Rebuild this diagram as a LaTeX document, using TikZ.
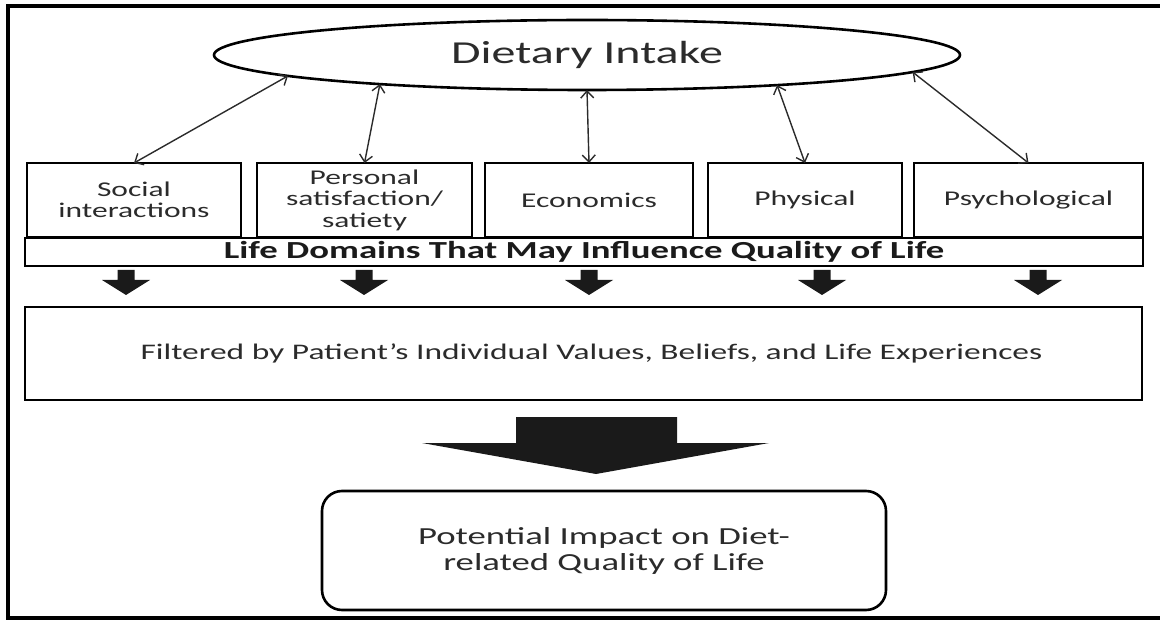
\documentclass[tikz,border=0pt]{standalone}
\usepackage{fontspec}
\setmainfont{Carlito}[FakeStretch=1.5]
\usetikzlibrary{arrows.meta,shapes.geometric}

\definecolor{inkgrey}{HTML}{2B2B2B}
\definecolor{fatgrey}{HTML}{1A1A1A}

\tikzset{
  domainbox/.style={draw, line width=2.6pt, minimum height=74pt, inner sep=0pt, outer sep=0pt,
    align=center, text=inkgrey, font=\fontsize{21}{21.5}\selectfont},
  twoway/.style={{Straight Barb[length=7pt,width=13pt]}-{Straight Barb[length=7pt,width=13pt]},
    line width=1.4pt, draw=inkgrey},
}

\begin{document}
\begin{tikzpicture}[x=1pt, y=-1pt]
       \useasboundingbox (0,0) rectangle (1160,620);
       \draw[line width=4pt] (8,6) rectangle (1170,618);
       % top
       \node[draw, ellipse, line width=2.6pt, inner sep=0pt, outer sep=0pt, minimum width=746pt, minimum height=70pt,
         text=inkgrey, font=\fontsize{32}{34}\selectfont] (diet) at (587,55) {Dietary Intake};
       % domains
       \node[domainbox, minimum width=214pt] (soc)  at (134,200)    {Social\\interactions};
       \node[domainbox, minimum width=215pt] (pers) at (364.5,200)  {Personal\\satisfaction/\\satiety};
       \node[domainbox, minimum width=208pt] (eco)  at (589,200)    {Economics};
       \node[domainbox, minimum width=194pt] (phys) at (805,200)    {Physical};
       \node[domainbox, minimum width=229pt] (psy)  at (1028.5,200) {Psychological};
       \node[draw, line width=2.6pt, inner sep=0pt, outer sep=0pt, minimum width=1118pt, minimum height=28pt,
         text=fatgrey, font=\fontsize{24.5}{25}\selectfont\bfseries] (band) at (584,252)
         {Life Domains That May Influence Quality of Life};
       \draw[twoway] (diet.184.2) -- (soc.north);
       \draw[twoway] (diet.188.6) -- (pers.north);
       \draw[twoway] (diet.south) -- (eco.north);
       \draw[twoway] (diet.351.5) -- (phys.north);
       \draw[twoway] (diet.357.1) -- (psy.north);
       % small arrows
       \foreach \x in {126,364,589,822,1038}
         \fill[fatgrey] (\x-8.5,270) -- (\x+8.5,270) -- (\x+8.5,280) -- (\x+24,280) -- (\x,295)
           -- (\x-24,280) -- (\x-8.5,280) -- cycle;
       % filter
       \node[draw, line width=2.6pt, inner sep=0pt, outer sep=0pt, minimum width=1117pt, minimum height=93pt,
         text=inkgrey, font=\fontsize{22.3}{24}\selectfont] (filt) at (583.5,353.5)
         {\hspace*{16pt}Filtered by Patient’s Individual Values, Beliefs, and Life Experiences};
       \fill[fatgrey] (516,417) -- (677,417) -- (677,443) -- (769,443) -- (596,474) -- (422,443)
         -- (516,443) -- cycle;
       % result
       \node[draw, line width=2.6pt, rounded corners=20pt, inner sep=0pt, outer sep=0pt, minimum width=564pt,
         minimum height=119pt, align=center, text=inkgrey, font=\fontsize{24.5}{26}\selectfont] (impact)
         at (604,550.5) {Potential Impact on Diet-\\related Quality of Life};
\end{tikzpicture}
\end{document}
